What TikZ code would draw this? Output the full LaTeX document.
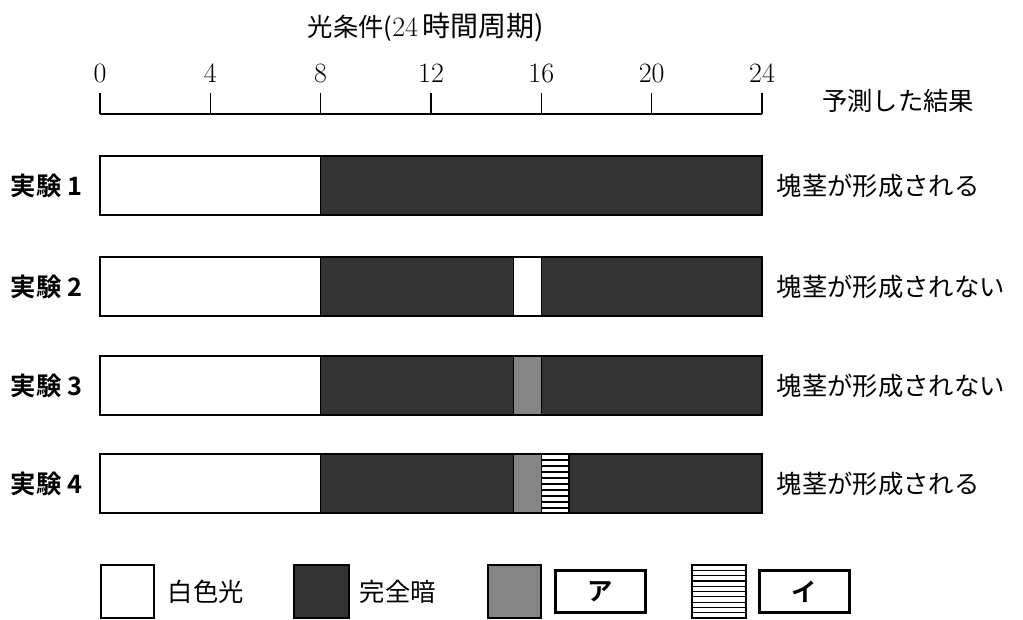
\documentclass[tikz,border=0pt]{standalone}
\usepackage{fontspec}
\newfontfamily\jp{Noto Sans CJK JP}[BoldFont={Noto Sans CJK JP Bold}]
\begin{document}
\begin{tikzpicture}[x=0.75pt,y=-0.75pt,
lightseg/.style={draw=black,line width=1.1pt,fill=white},
darkseg/.style={draw=black,line width=1.1pt,fill=black!80},
midseg/.style={draw=black,line width=1.1pt,fill=black!48},
hatchseg/.style={draw=black,line width=1.1pt,fill=white},
keybox/.style={rectangle,draw=black,line width=2.2pt,minimum width=68pt,minimum height=32pt,inner sep=0pt},
jtext/.style={font=\fontsize{19}{22}\selectfont\jp},
num/.style={font=\fontsize{21}{24}\selectfont}]

\useasboundingbox (0,0) rectangle (1023,619);

% Axis
\node[jtext] (title) at (426,27) {光条件(\fontsize{21}{24}\selectfont\textrm{24}\,時間周期)};
\draw[line width=1.1pt] (100,114) -- (762,114);
\foreach \h in {0,4,...,24}{
  \draw[line width=1.1pt] (100+27.583*\h,93) -- (100+27.583*\h,114);
  \node[num] (tick\h) at (100+27.583*\h,73) {\h};
}
\node[jtext] (predhead) at (898,101) {予測した結果};

% Experiments
\foreach \t/\n/\res in {156/1/塊茎が形成される,257/2/塊茎が形成されない,356/3/塊茎が形成されない,454/4/塊茎が形成される}{
  \draw[lightseg] (100,\t) rectangle (320.6,\t+59);
  \draw[darkseg] (320.6,\t) rectangle (762,\t+59);
  \node[jtext,font=\fontsize{19}{22}\selectfont\jp\bfseries,anchor=west] (exp\n) at (6,\t+30) {実験 \n};
  \node[jtext,anchor=west] (res\n) at (772,\t+30) {\res};
}
\draw[lightseg] (513.7,257) rectangle (541.3,316);
\draw[midseg] (513.7,356) rectangle (541.3,415);
\draw[midseg] (513.7,454) rectangle (541.3,513);
\draw[hatchseg] (541.3,454) rectangle (568.9,513);
\foreach \y in {460,466,...,508}
  \draw[line width=1pt] (541.3,\y) -- (568.9,\y);

% Legend
\draw[lightseg] (101,565) rectangle (154,618);
\node[jtext,anchor=west] (keylight) at (163,592) {白色光};
\draw[darkseg] (294,565) rectangle (349,618);
\node[jtext,anchor=west] (keydark) at (355,592) {完全暗};
\draw[midseg] (488,565) rectangle (541,618);
\node[keybox,jtext,font=\fontsize{19}{22}\selectfont\jp\bfseries] (keya) at (600.5,591.5) {ア};
\draw[hatchseg] (692,565) rectangle (746,618);
\foreach \y in {570.3,575.6,...,614}
  \draw[line width=0.9pt] (692,\y) -- (746,\y);
\node[keybox,jtext,font=\fontsize{19}{22}\selectfont\jp\bfseries] (keyi) at (804.5,591.5) {イ};

\end{tikzpicture}
\end{document}
